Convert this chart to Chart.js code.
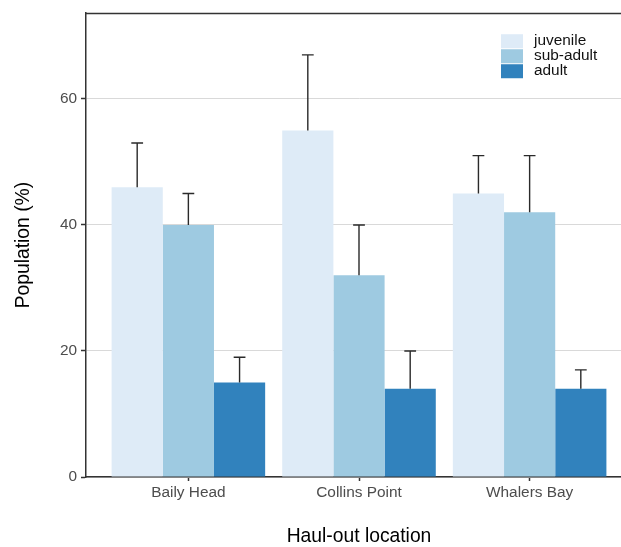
<!DOCTYPE html>
<html>
<head>
<meta charset="utf-8">
<script src="https://cdn.jsdelivr.net/npm/chart.js@4/dist/chart.umd.min.js"></script>
<style>
  html, body { margin: 0; padding: 0; background: #ffffff; overflow: hidden; }
  #wrap { width: 621px; height: 547px; overflow: hidden; }
  canvas { display: block; }
</style>
</head>
<body>
<div id="wrap"><canvas id="c" width="640" height="547"></canvas></div>
<script>
// Haul-out locations and age classes
const locations = ['Baily Head', 'Collins Point', 'Whalers Bay'];
const ageClasses = ['juvenile', 'sub-adult', 'adult'];

// Mean share of the population (%) per location
const juvenile = [46, 55, 45];
const subAdult = [40, 32, 42];
const adult = [15, 14, 14];

// Upper ends of the error bars (%)
const juvenileUpper = [53, 67, 51];
const subAdultUpper = [45, 40, 51];
const adultUpper = [19, 20, 17];

// Axis ticks
const yTicks = [0, 20, 40, 60];
const xPositions = [1, 2, 3];

const colours = ['#DEEBF7', '#9ECAE1', '#3182BD'];
const FONT = "'Liberation Sans', Arial, Helvetica, sans-serif";

const seriesValues = [juvenile, subAdult, adult];
const seriesUpper = [juvenileUpper, subAdultUpper, adultUpper];

const datasets = ageClasses.map((name, d) => ({
  label: name,
  data: seriesValues[d].map((v, i) => ({ x: xPositions[i], y: v })),
  upper: seriesUpper[d],
  backgroundColor: colours[d],
  borderWidth: 0,
  categoryPercentage: 0.9,
  barPercentage: 1.0
}));

// Error bars: a vertical whisker from the bar top to the upper value, with a cap
const errorBars = {
  id: 'errorBars',
  afterDatasetsDraw(chart) {
    const ctx = chart.ctx;
    const yScale = chart.scales.y;
    ctx.save();
    ctx.strokeStyle = '#2a2a2a';
    ctx.lineWidth = 1.4;
    chart.data.datasets.forEach((ds, d) => {
      const meta = chart.getDatasetMeta(d);
      meta.data.forEach((bar, i) => {
        const yTop = yScale.getPixelForValue(ds.upper[i]);
        const half = bar.width * 0.115;
        ctx.beginPath();
        ctx.moveTo(bar.x, bar.y);
        ctx.lineTo(bar.x, yTop);
        ctx.moveTo(bar.x - half, yTop);
        ctx.lineTo(bar.x + half, yTop);
        ctx.stroke();
      });
    });
    ctx.restore();
  }
};

// Panel border on top of the plotting area
const panelBorder = {
  id: 'panelBorder',
  afterDraw(chart) {
    const { ctx, chartArea: a } = chart;
    ctx.save();
    ctx.strokeStyle = '#333333';
    ctx.lineWidth = 1.3;
    ctx.beginPath();
    ctx.moveTo(a.left, Math.round(a.top) + 0.5);
    ctx.lineTo(a.right, Math.round(a.top) + 0.5);
    ctx.moveTo(Math.round(a.right) - 0.5, a.top);
    ctx.lineTo(Math.round(a.right) - 0.5, a.bottom);
    ctx.stroke();
    ctx.restore();
  }
};

// Legend keys inside the panel, top right
const insetLegend = {
  id: 'insetLegend',
  afterDraw(chart) {
    const { ctx, chartArea: a } = chart;
    const keyW = 22, keyH = 14, pitch = 15;
    const x0 = a.right - 131;
    const y0 = a.top + 21;
    ctx.save();
    ctx.font = '15.4px ' + FONT;
    ctx.textBaseline = 'middle';
    ctx.textAlign = 'left';
    chart.data.datasets.forEach((ds, d) => {
      const y = y0 + d * pitch;
      ctx.fillStyle = ds.backgroundColor;
      ctx.fillRect(x0, y, keyW, keyH);
      ctx.fillStyle = '#111111';
      ctx.fillText(ds.label, x0 + 33, y + keyH / 2 - 0.5);
    });
    ctx.restore();
  }
};

new Chart(document.getElementById('c'), {
  type: 'bar',
  data: { datasets },
  plugins: [errorBars, panelBorder, insetLegend],
  options: {
    responsive: false,
    animation: false,
    events: [],
    layout: { padding: { top: 8, right: 8, bottom: 0, left: 0 } },
    plugins: {
      legend: { display: false },
      tooltip: { enabled: false }
    },
    scales: {
      x: {
        type: 'linear',
        min: 0.4,
        max: 3.6,
        offset: false,
        afterBuildTicks(scale) {
          scale.ticks = xPositions.map(v => ({ value: v }));
        },
        afterFit(scale) { scale.height = 70; },
        grid: {
          display: true,
          offset: false,
          drawOnChartArea: false,
          drawTicks: true,
          tickLength: 4,
          tickColor: '#333333',
          tickWidth: 1.5
        },
        border: { display: true, color: '#333333', width: 1.5 },
        ticks: {
          autoSkip: false,
          maxRotation: 0,
          padding: 3,
          color: '#4D4D4D',
          font: { family: FONT, size: 15.4 },
          callback: (v) => locations[xPositions.indexOf(v)]
        },
        title: {
          display: true,
          text: 'Haul-out location',
          color: '#000000',
          font: { family: FONT, size: 19.3 },
          padding: { top: 0, bottom: -1 }
        }
      },
      y: {
        type: 'linear',
        min: 0,
        max: 73.6,
        afterBuildTicks(scale) {
          scale.ticks = yTicks.map(v => ({ value: v }));
        },
        afterFit(scale) { scale.width = 86; },
        grid: {
          color: '#d9d9d9',
          lineWidth: 1,
          drawTicks: true,
          tickLength: 5,
          tickColor: '#333333',
          tickWidth: 1.5
        },
        border: { display: true, color: '#333333', width: 1.5 },
        ticks: {
          padding: 4,
          color: '#4D4D4D',
          font: { family: FONT, size: 15.4 }
        },
        title: {
          display: true,
          text: 'Population (%)',
          color: '#000000',
          font: { family: FONT, size: 19.3 },
          padding: { top: 12, bottom: 0 }
        }
      }
    }
  }
});
</script>
</body>
</html>
